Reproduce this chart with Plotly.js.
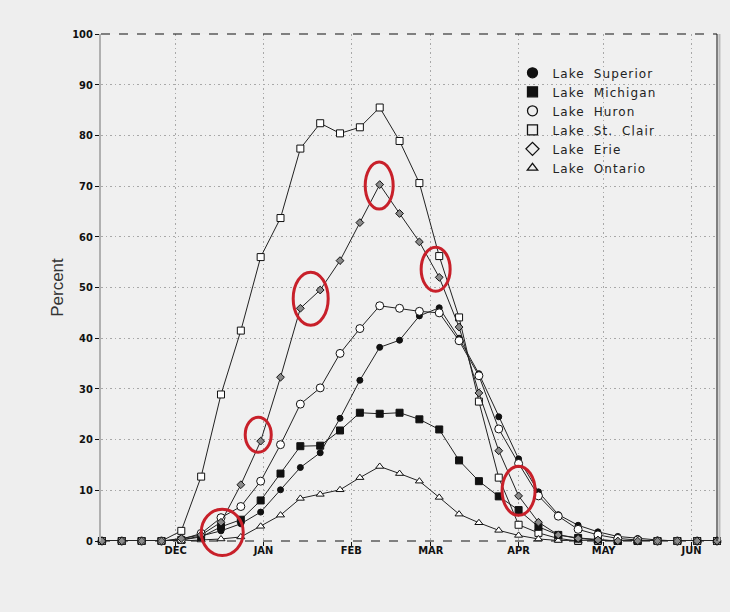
<!DOCTYPE html>
<html>
<head>
<meta charset="utf-8">
<script src="https://cdn.plot.ly/plotly-3.0.1.min.js"></script>
<style>
  html, body { margin: 0; padding: 0; background: #eeeeee; }
  #chart { width: 730px; height: 612px; }
  .legendtext { letter-spacing: 1.1px; word-spacing: 4px; }
</style>
</head>
<body>
<div id="chart"></div>
<script>
// ---- data (weekly ice-cover percent) ----
const weeks = ['2013-11-05','2013-11-12','2013-11-19','2013-11-26','2013-12-03','2013-12-10','2013-12-17','2013-12-24','2013-12-31',
  '2014-01-07','2014-01-14','2014-01-21','2014-01-28','2014-02-04','2014-02-11','2014-02-18','2014-02-25',
  '2014-03-04','2014-03-11','2014-03-18','2014-03-25','2014-04-01','2014-04-08','2014-04-15','2014-04-22','2014-04-29',
  '2014-05-06','2014-05-13','2014-05-20','2014-05-27','2014-06-03','2014-06-10'];

const superior = [0,0,0,0,0.2,1.0,2.0,3.4,5.7,10.1,14.5,17.4,24.2,31.7,38.2,39.6,44.4,46.0,40.0,33.0,24.5,16.2,9.7,5.2,3.1,1.8,0.9,0.5,0.2,0,0,0];
const michigan = [0,0,0,0,0.2,0.8,2.8,4.2,8.0,13.3,18.7,18.8,21.8,25.3,25.1,25.3,24.0,22.0,15.9,11.8,8.8,6.1,2.8,1.2,0.6,0.3,0,0,0,0,0,0];
const huron    = [0,0,0,0,0.3,1.5,4.6,6.8,11.8,19.0,27.0,30.2,37.0,41.9,46.4,45.9,45.3,45.0,39.5,32.6,22.1,15.3,8.9,4.9,2.3,1.2,0.5,0.2,0,0,0,0];
const stclair  = [0,0,0,0,2.0,12.7,28.9,41.5,56.0,63.7,77.4,82.4,80.4,81.6,85.5,78.9,70.6,56.2,44.1,27.5,12.5,3.2,1.6,0.5,0,0,0,0,0,0,0,0];
const erie     = [0,0,0,0,0.5,1.2,3.7,11.1,19.7,32.3,45.9,49.5,55.3,62.8,70.3,64.6,59.0,52.0,42.2,29.2,17.8,8.9,3.7,1.2,0.5,0.2,0,0,0,0,0,0];
const ontario  = [0,0,0,0,0,0.2,0.4,0.8,2.9,5.1,8.4,9.2,10.1,12.5,14.7,13.3,11.8,8.6,5.3,3.6,2.1,1.1,0.4,0.1,0,0,0,0,0,0,0,0];

const lakeNames = ['Lake Superior','Lake Michigan','Lake Huron','Lake St. Clair','Lake Erie','Lake Ontario'];
const monthTicks = ['2013-12-01','2014-01-01','2014-02-01','2014-03-01','2014-04-01','2014-05-01','2014-06-01'];
const monthLabels = ['DEC','JAN','FEB','MAR','APR','MAY','JUN'];

// ---- styles ----
const series = [
  {y: stclair,  sym: 'square',        size: 7, fill: '#ffffff', lw: 1},
  {y: ontario,  sym: 'triangle-up',   size: 7, fill: '#ffffff', lw: 1},
  {y: michigan, sym: 'square',        size: 7, fill: '#111111', lw: 1},
  {y: superior, sym: 'circle',        size: 6, fill: '#111111', lw: 1},
  {y: huron,    sym: 'circle',        size: 8, fill: '#ffffff', lw: 1},
  {y: erie,     sym: 'diamond',       size: 6, fill: '#8a8a8a', lw: 1}
];

const traces = series.map(s => ({
  type: 'scatter', mode: 'lines+markers', x: weeks, y: s.y,
  line: {color: '#222222', width: 1},
  marker: {symbol: s.sym, size: s.size, color: s.fill, line: {color: '#111', width: s.lw}},
  cliponaxis: false, showlegend: false, hoverinfo: 'skip'
}));

const legendStyles = [
  {sym: 'circle', fill: '#111', size: 10},
  {sym: 'square', fill: '#111', size: 10},
  {sym: 'circle', fill: '#eeeeee', size: 10},
  {sym: 'square', fill: '#eeeeee', size: 10},
  {sym: 'diamond', fill: '#eeeeee', size: 10},
  {sym: 'triangle-up', fill: '#eeeeee', size: 9}
];
lakeNames.forEach((name, i) => {
  const st = legendStyles[i];
  traces.push({
    type: 'scatter', mode: 'markers', x: [null], y: [null], name: name,
    marker: {symbol: st.sym, size: st.size, color: st.fill, line: {color: '#111', width: 1.3}},
    showlegend: true
  });
});

// red hand-drawn ellipses (paper coords)
const ellipses = [
  [0.1627, -0.0284, 0.2309, 0.0626],
  [0.2341, 0.1751, 0.2764, 0.2441],
  [0.3120, 0.4257, 0.3688, 0.5303],
  [0.4289, 0.6546, 0.4743, 0.7474],
  [0.5197, 0.4928, 0.5668, 0.5796],
  [0.6511, 0.0507, 0.7047, 0.1474]
];
const shapes = ellipses.map(e => ({
  type: 'circle', xref: 'paper', yref: 'paper', x0: e[0], y0: e[1], x1: e[2], y1: e[3],
  line: {color: '#c8202a', width: 3}, layer: 'above'
}));
shapes.push({type: 'line', xref: 'paper', yref: 'paper', x0: 0, x1: 1, y0: 1, y1: 1, line: {color: '#111', width: 1, dash: 'dash'}, layer: 'above'});
shapes.push({type: 'line', xref: 'paper', yref: 'paper', x0: 0, x1: 1, y0: 0, y1: 0, line: {color: '#111', width: 1.2, dash: 'dash'}, layer: 'below'});
shapes.push({type: 'line', xref: 'paper', yref: 'paper', x0: 1, x1: 1, y0: 0, y1: 1, line: {color: '#111', width: 1}, layer: 'above'});
shapes.push({type: 'line', xref: 'paper', yref: 'paper', x0: 1.004, x1: 1.004, y0: 0, y1: 1, line: {color: '#bbbbbb', width: 2}, layer: 'above'});

const tickFont = {family: 'Liberation Sans Narrow, DejaVu Sans Condensed, Arial Narrow, sans-serif', size: 11, color: '#111', weight: 700};

const layout = {
  width: 730, height: 612,
  margin: {l: 101, r: 13, t: 34, b: 71},
  paper_bgcolor: '#eeeeee', plot_bgcolor: '#f0f0f0',
  showlegend: true,
  legend: {
    x: 0.668, y: 0.952, xanchor: 'left', yanchor: 'top',
    bgcolor: 'rgba(0,0,0,0)', borderwidth: 0,
    font: {family: 'DejaVu Sans, sans-serif', size: 12, color: '#222'},
    itemwidth: 30
  },
  xaxis: {
    type: 'date', range: ['2013-11-04 16:00', '2014-06-10'],
    tickmode: 'array', tickvals: monthTicks, ticktext: monthLabels,
    ticks: 'outside', ticklen: 4, tickcolor: '#111',
    tickfont: tickFont, ticklabelstandoff: -5,
    showgrid: true, gridcolor: '#a8a8a8', gridwidth: 1, griddash: '2px,3px,1px,3px',
    showline: false, zeroline: false, fixedrange: true
  },
  yaxis: {
    range: [0, 100], dtick: 10, tick0: 0,
    ticks: 'outside', ticklen: 4, tickcolor: '#111',
    tickfont: tickFont,
    showgrid: true, gridcolor: '#a8a8a8', gridwidth: 1, griddash: '2px,3px,1px,3px',
    showline: true, linecolor: '#b0b0b0', linewidth: 2,
    zeroline: false, fixedrange: true,
    title: {text: 'Percent', font: {family: 'Liberation Sans, Arial, sans-serif', size: 17, color: '#333'}, standoff: 4}
  },
  shapes: shapes
};

Plotly.newPlot('chart', traces, layout, {displayModeBar: false, staticPlot: true});
</script>
</body>
</html>
